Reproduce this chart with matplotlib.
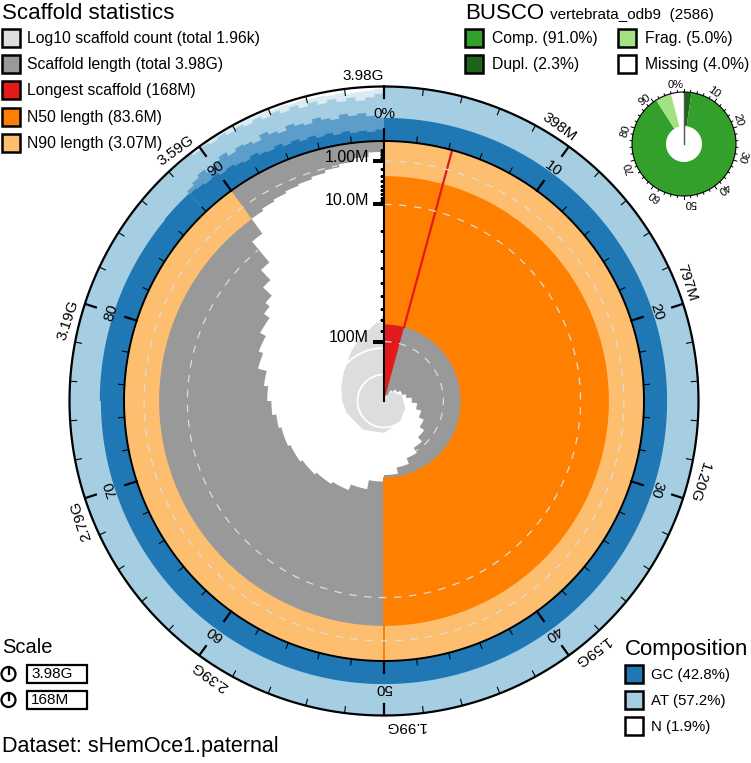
import numpy as np
import matplotlib
matplotlib.use('Agg')
import matplotlib.pyplot as plt
from matplotlib.patches import Rectangle, Circle

plt.rcParams['font.family'] = ['Liberation Sans', 'DejaVu Sans']

### assembly summary
dataset = 'sHemOce1.paternal'
longest_mb = 168.0
n50_mb = 83.6
n90_mb = 3.07
longest_pct = 4.22

### scaffold length (Mb) in each 1% bin of the assembly
length_mb = [168, 168, 168, 168, 160, 160, 160, 160, 160, 152,
             152, 152, 148, 148, 148, 148, 144, 144, 144, 144,
             140, 140, 140, 134, 134, 134, 128, 128, 128, 122,
             122, 122, 116, 116, 116, 110, 110, 110, 104, 104,
             104, 98, 98, 98, 92, 92, 92, 86, 86, 86,
             80, 80, 80, 72, 72, 72, 67, 67, 67, 65,
             65, 65, 63, 63, 63, 61, 61, 61, 59, 59,
             59, 57, 57, 54, 54, 51, 51, 48, 48, 42,
             42, 39, 39, 35, 35, 31, 28, 22, 16, 7,
             3.0, 2.6, 2.3, 2.0, 1.8, 1.5, 1.2, 0.9, 0.6, 0.3]

### cumulative scaffold count
count_pct = [0, 4.2, 8, 12, 20, 30, 40, 50, 60, 70, 75, 80, 85, 88, 90, 92, 94, 96, 98, 99, 100]
count_n = [1, 1, 2, 3, 5, 7, 10, 16, 22, 30, 38, 50, 75, 100, 150, 220, 320, 470, 800, 1100, 1960]

### base composition (GC % of ring), smooth part then noisy tail (0.5% bins from 88%)
gc_seg_pct = [0, 50, 75, 86, 88]
gc_seg = [42, 42, 44, 45]
gc_lo = [43, 41, 38, 40, 35, 37, 33, 30, 34, 29, 27, 31, 25, 28, 23, 26, 21, 24, 19, 22, 18, 20, 17, 21]
gc_hi = [50, 55, 60, 52, 58, 63, 55, 60, 57, 52, 61, 55, 50, 58, 53, 49, 56, 51, 47, 54, 49, 52, 46, 42]
n_mean = [0, 1, 0, 2, 1, 3, 2, 2, 4, 3, 5, 4, 6, 5, 7, 6, 8, 7, 9, 8, 10, 9, 8, 5]
n_hi = [2, 4, 3, 7, 5, 9, 6, 11, 8, 13, 9, 15, 11, 17, 12, 19, 14, 21, 16, 23, 18, 25, 20, 14]
comp_labels = ['GC (42.8%)', 'AT (57.2%)', 'N (1.9%)']

### BUSCO
busco_lineage = 'vertebrata_odb9'
busco_total = 2586
busco_comp, busco_dupl, busco_frag, busco_missing = 91.0, 2.3, 5.0, 4.0

### tick labels
outer_labels = ['3.98G', '398M', '797M', '1.20G', '1.59G', '1.99G', '2.39G', '2.79G', '3.19G', '3.59G']
inner_labels = ['0%', '10', '20', '30', '40', '50', '60', '70', '80', '90']
busco_tick_labels = ['0%', '10', '20', '30', '40', '50', '60', '70', '80', '90']
len_ticks = [100, 10, 1]
len_tick_labels = ['100M', '10.0M', '1.00M']
len_minor = [20, 30, 40, 50, 60, 70, 80, 90, 2, 3, 4, 5, 6, 7, 8, 9,
             0.2, 0.3, 0.4, 0.5, 0.6, 0.7, 0.8, 0.9]

LGRAY = '#dddddd'
GRAY = '#999999'
RED = '#e31a1c'
ORANGE = '#ff7f00'
LORANGE = '#fdbf6f'
GC_BLUE = '#1f78b4'
AT_BLUE = '#a6cee3'
COMP_G = '#33a02c'
DUPL_G = '#20641c'
FRAG_G = '#a3e283'

W_PX, H_PX = 751, 763
cx, cy = 384, 401
R_OUT = 315
R_IN = 260
RING = R_OUT - R_IN
DECADE = 26.5


def th(p):
    return np.deg2rad(np.asarray(p, dtype=float) * 3.6)


def rad(mb):
    return R_IN * (1 - np.sqrt(np.asarray(mb, dtype=float) / longest_mb))


def step_fill(axis, start_pct, bin_w, r_a, r_b, **kw):
    # one polygon between two stepped radial boundaries, arcs sampled every 0.2%
    start_pct = np.atleast_1d(np.asarray(start_pct, dtype=float))
    n = len(start_pct)
    ws = np.broadcast_to(np.asarray(bin_w, dtype=float), n)
    ras = np.broadcast_to(np.asarray(r_a, dtype=float), n)
    rbs = np.broadcast_to(np.asarray(r_b, dtype=float), n)
    p, ra, rb = [], [], []
    for s, w, a, b in zip(start_pct, ws, ras, rbs):
        k = max(2, int(np.ceil(w / 0.2)) + 1)
        p.append(np.linspace(s, s + w, k))
        ra.append(np.full(k, a))
        rb.append(np.full(k, b))
    p, ra, rb = np.concatenate(p), np.concatenate(ra), np.concatenate(rb)
    axis.fill(np.r_[th(p), th(p[::-1])], np.r_[rb, ra[::-1]], lw=0, **kw)


fig = plt.figure(figsize=(W_PX / 100, H_PX / 100), dpi=100)
lay = fig.add_axes([0, 0, 1, 1])
lay.set_xlim(0, W_PX)
lay.set_ylim(H_PX, 0)
lay.axis('off')

ax = fig.add_axes([(cx - R_OUT) / W_PX, (H_PX - cy - R_OUT) / H_PX,
                   2 * R_OUT / W_PX, 2 * R_OUT / H_PX], projection='polar')
ax.set_theta_zero_location('N')
ax.set_theta_direction(-1)
ax.axis('off')

### log10 count spiral
r_cnt = DECADE * np.log10(count_n)
ax.fill(np.r_[0, th(count_pct)], np.r_[0, r_cnt], color=LGRAY, lw=0, zorder=1)
for d in [1, 2, 3]:
    p0 = np.interp(d, np.log10(count_n), count_pct)
    tt = np.linspace(th(p0), th(100), 300)
    ax.plot(tt, np.full_like(tt, DECADE * d), color='white', lw=1.3, zorder=3)

### scaffold lengths
pct = np.arange(100)
r_len = rad(length_mb)
step_fill(ax, pct, 1, r_len, R_IN, color=GRAY, zorder=2)

### N50 / N90 / longest
step_fill(ax, [0], 50, rad(n50_mb), R_IN, color=ORANGE, zorder=4)
step_fill(ax, [0], 90, rad(n90_mb), R_IN, color=LORANGE, zorder=5)
step_fill(ax, [0], longest_pct, 0, rad(n50_mb), color=RED, zorder=5)
ax.plot([th(longest_pct)] * 2, [rad(n50_mb), R_IN], color=RED, lw=1.6, zorder=6)
ax.plot([th(50)] * 2, [rad(n50_mb), R_IN], color=ORANGE, lw=1.4, zorder=6)

### dashed length grid
p_fine = np.arange(0, 100.001, 0.1)
bin_idx = np.minimum(p_fine.astype(int), 99)
r_cnt_fine = np.interp(p_fine, count_pct, r_cnt)
for mb in len_ticks:
    rr = float(rad(mb))
    vis = (rr >= r_len[bin_idx]) | (rr <= r_cnt_fine)
    ax.plot(th(p_fine), np.where(vis, rr, np.nan), color=LGRAY, lw=0.9,
            ls=(0, (6, 6)), zorder=7)

### composition ring
step_fill(ax, [0], 100, R_IN, R_OUT, color=AT_BLUE, zorder=3)
seg_w = np.diff(gc_seg_pct)
step_fill(ax, gc_seg_pct[:-1], seg_w, R_IN, R_IN + np.array(gc_seg) / 100 * RING,
          color=GC_BLUE, zorder=4)
noise_pct = np.arange(88, 100, 0.5)
step_fill(ax, noise_pct, 0.5, R_IN, R_IN + np.array(gc_hi) / 100 * RING,
          color=GC_BLUE, alpha=0.55, zorder=4)
step_fill(ax, noise_pct, 0.5, R_IN, R_IN + np.array(gc_lo) / 100 * RING,
          color=GC_BLUE, zorder=4)
step_fill(ax, noise_pct, 0.5, R_OUT - np.array(n_hi) / 100 * RING, R_OUT,
          color='white', alpha=0.6, zorder=5)
step_fill(ax, noise_pct, 0.5, R_OUT - np.array(n_mean) / 100 * RING, R_OUT,
          color='white', zorder=5)

### circles
circ = np.linspace(0, 2 * np.pi, 721)
ax.plot(circ, np.full_like(circ, R_IN), color='k', lw=1.4, zorder=9)
ax.plot(circ, np.full_like(circ, R_OUT - 0.5), color='k', lw=1.6, zorder=9, clip_on=False)

### ring ticks
for p in range(0, 100, 2):
    major = p % 10 == 0
    ax.plot([th(p)] * 2, [R_IN, R_IN + (12 if major else 6)], color='k',
            lw=1.6 if major else 0.8, zorder=9)
    ax.plot([th(p)] * 2, [R_OUT - (12 if major else 7), R_OUT], color='k',
            lw=1.6 if major else 0.8, zorder=9)
for k in range(10):
    ax.text(th(10 * k), 287, inner_labels[k], rotation=-36 * k, rotation_mode='anchor',
            ha='center', va='center', fontsize=11, zorder=10)
    ax.text(th(10 * k), 318, outer_labels[k], rotation=-36 * k, rotation_mode='anchor',
            ha='right', va='bottom', fontsize=11, zorder=10)

### radial length axis
ax.plot([0, 0], [0, R_IN], color='k', lw=1.5, zorder=10)
ax.plot(np.zeros(len(len_minor)), rad(len_minor), ls='none', marker=0, ms=3,
        mew=0.9, color='k', zorder=10)
ax.plot(np.zeros(len(len_ticks)), rad(len_ticks), ls='none', marker=0, ms=8,
        mew=1.5, color='k', zorder=10)
for mb, lab in zip(len_ticks, len_tick_labels):
    ax.annotate(lab, (0, rad(mb)), xytext=(-15, 4), textcoords='offset pixels',
                ha='right', va='center', fontsize=11.5, zorder=10)
ax.set_ylim(0, R_OUT)

### BUSCO donut
BR, BHOLE = 52, 18
bcx, bcy = 684, 144
bx = fig.add_axes([(bcx - BR) / W_PX, (H_PX - bcy - BR) / H_PX,
                   2 * BR / W_PX, 2 * BR / H_PX], projection='polar')
bx.set_theta_zero_location('N')
bx.set_theta_direction(-1)
bx.axis('off')
b_vals = [busco_dupl, busco_comp - busco_dupl, busco_frag, busco_missing]
b_cols = [DUPL_G, COMP_G, FRAG_G, 'white']
b_start = np.r_[0, np.cumsum(b_vals)[:-1]]
for s, v, c in zip(b_start, b_vals, b_cols):
    step_fill(bx, [s], v, BHOLE, BR, color=c)
bx.plot([0, 0], [0, BR], color='#555555', lw=1)
bx.plot(circ, np.full_like(circ, BR), color='k', lw=0.8, clip_on=False)
for p in range(0, 100, 2):
    major = p % 10 == 0
    bx.plot([th(p)] * 2, [BR, BR + (3.5 if major else 2)], color='k', lw=0.7, clip_on=False)
for k in range(10):
    bx.text(th(10 * k), 54, busco_tick_labels[k], rotation=-36 * k, rotation_mode='anchor',
            ha='right', va='bottom', fontsize=8)
bx.set_ylim(0, BR)

### legends
def box(x, y, color, w=18, h=18):
    lay.add_patch(Rectangle((x, y), w, h, facecolor=color, edgecolor='k', lw=1.8))

lay.text(2, 19, 'Scaffold statistics', fontsize=16, va='baseline')
scaf_items = [('Log10 scaffold count (total 1.96k)', LGRAY),
              ('Scaffold length (total 3.98G)', GRAY),
              ('Longest scaffold (168M)', RED),
              ('N50 length (83.6M)', ORANGE),
              ('N90 length (3.07M)', LORANGE)]
for i, (lab, col) in enumerate(scaf_items):
    y0 = 29 + 26.2 * i
    box(1.5, y0, col)
    lay.text(27, y0 + 9.5, lab, fontsize=11.3, va='center')

lay.text(465, 19, 'BUSCO', fontsize=16, va='baseline')
lay.text(550, 19, '%s  (%d)' % (busco_lineage, busco_total), fontsize=11, va='baseline')
busco_items = [('Comp. (%.1f%%)' % busco_comp, COMP_G, 465, 29),
               ('Dupl. (%.1f%%)' % busco_dupl, DUPL_G, 465, 55),
               ('Frag. (%.1f%%)' % busco_frag, FRAG_G, 618, 29),
               ('Missing (%.1f%%)' % busco_missing, 'white', 618, 55)]
for lab, col, x0, y0 in busco_items:
    box(x0, y0, col)
    lay.text(x0 + 27, y0 + 9.5, lab, fontsize=11.3, va='center')

lay.text(625, 655, 'Composition', fontsize=16, va='baseline')
for i, (lab, col) in enumerate(zip(comp_labels, [GC_BLUE, AT_BLUE, 'white'])):
    y0 = 665 + 26 * i
    box(625, y0, col)
    lay.text(651, y0 + 9.5, lab, fontsize=10.8, va='center')

lay.text(2, 653, 'Scale', fontsize=14.5, va='baseline')
for i, lab in enumerate([outer_labels[0], '168M']):
    y0 = 665 + 26 * i
    lay.add_patch(Circle((8.5, y0 + 9), 7, fill=False, edgecolor='k', lw=1.6))
    lay.plot([8.5, 8.5], [y0 + 2, y0 + 9], color='k', lw=1.6)
    lay.add_patch(Rectangle((27, y0), 60, 18, fill=False, edgecolor='k', lw=1.6))
    lay.text(31, y0 + 9.5, lab, fontsize=11, va='center')

lay.text(2, 752, 'Dataset: ' + dataset, fontsize=15.5, va='baseline')

fig.savefig('out.png', dpi=100)
